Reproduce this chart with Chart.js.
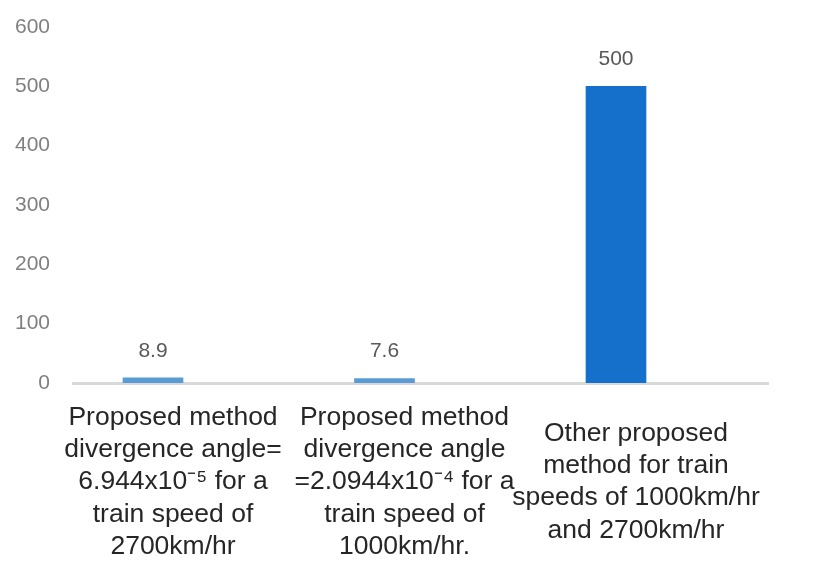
<!DOCTYPE html>
<html>
<head>
<meta charset="utf-8">
<title>Divergence comparison</title>
<script src="https://cdn.jsdelivr.net/npm/chart.js@4/dist/chart.umd.min.js"></script>
<style>
  html, body { margin: 0; padding: 0; background: #fff; }
  #wrap { width: 813px; height: 563px; }
</style>
</head>
<body>
<div id="wrap"><canvas id="chart"></canvas></div>
<script>
// ===== Data =====
const categories = [
  ["Proposed method", "divergence angle=", "6.944x10\u207B\u2075 for a", "train speed of", "2700km/hr"],
  ["Proposed method", "divergence angle", "=2.0944x10\u207B\u2074 for a", "train speed of", "1000km/hr."],
  ["Other proposed", "method for train", "speeds of 1000km/hr", "and 2700km/hr"]
];
const values = [8.9, 7.6, 500];
const barColors = ["#5b9bd5", "#5b9bd5", "#1570cc"];
const yTicks = [0, 100, 200, 300, 400, 500, 600];

// ===== Value labels above bars =====
const valueLabels = {
  id: "valueLabels",
  afterDatasetsDraw(chart) {
    const ctx = chart.ctx;
    const meta = chart.getDatasetMeta(0);
    ctx.save();
    ctx.font = "21px 'Liberation Sans', Arial, sans-serif";
    ctx.fillStyle = "#595959";
    ctx.textAlign = "center";
    ctx.textBaseline = "middle";
    meta.data.forEach((bar, i) => {
      ctx.fillText(String(values[i]), bar.x, bar.y - 27);
    });
    ctx.restore();
  }
};

// ===== Chart =====
new Chart(document.getElementById("chart"), {
  type: "bar",
  data: {
    datasets: [{
      data: values.map((v, i) => ({ x: i, y: v })),
      backgroundColor: barColors,
      borderWidth: 0,
      barThickness: 60
    }]
  },
  options: {
    responsive: true,
    maintainAspectRatio: false,
    animation: false,
    layout: { padding: { top: 27, right: 45, bottom: 0, left: 0 } },
    plugins: {
      legend: { display: false },
      tooltip: { enabled: false }
    },
    scales: {
      x: {
        type: "linear",
        offset: false,
        min: -0.3456,
        max: 2.6566,
        afterBuildTicks: axis => { axis.ticks = categories.map((c, i) => ({ value: i })); },
        afterFit: axis => { axis.height = 180; },
        grid: { display: false, drawTicks: false, offset: false },
        border: { display: true, color: "#d9d9d9", width: 3 },
        ticks: {
          autoSkip: false,
          maxRotation: 0,
          minRotation: 0,
          padding: 35,
          labelOffset: 20,
          crossAlign: "center",
          color: "#262626",
          font: { family: "'Liberation Sans', Arial, sans-serif", size: 26.5, lineHeight: 1.21 },
          callback: v => categories[v]
        }
      },
      y: {
        min: 0,
        max: 600,
        afterBuildTicks: axis => { axis.ticks = yTicks.map(v => ({ value: v })); },
        afterFit: axis => {
          axis.width = 73;
          axis.paddingTop = 0;
          axis.paddingBottom = 0;
        },
        grid: { display: false, drawTicks: false },
        border: { display: false },
        ticks: {
          padding: 23,
          color: "#808080",
          font: { family: "'Liberation Sans', Arial, sans-serif", size: 21 }
        }
      }
    }
  },
  plugins: [valueLabels]
});
</script>
</body>
</html>
